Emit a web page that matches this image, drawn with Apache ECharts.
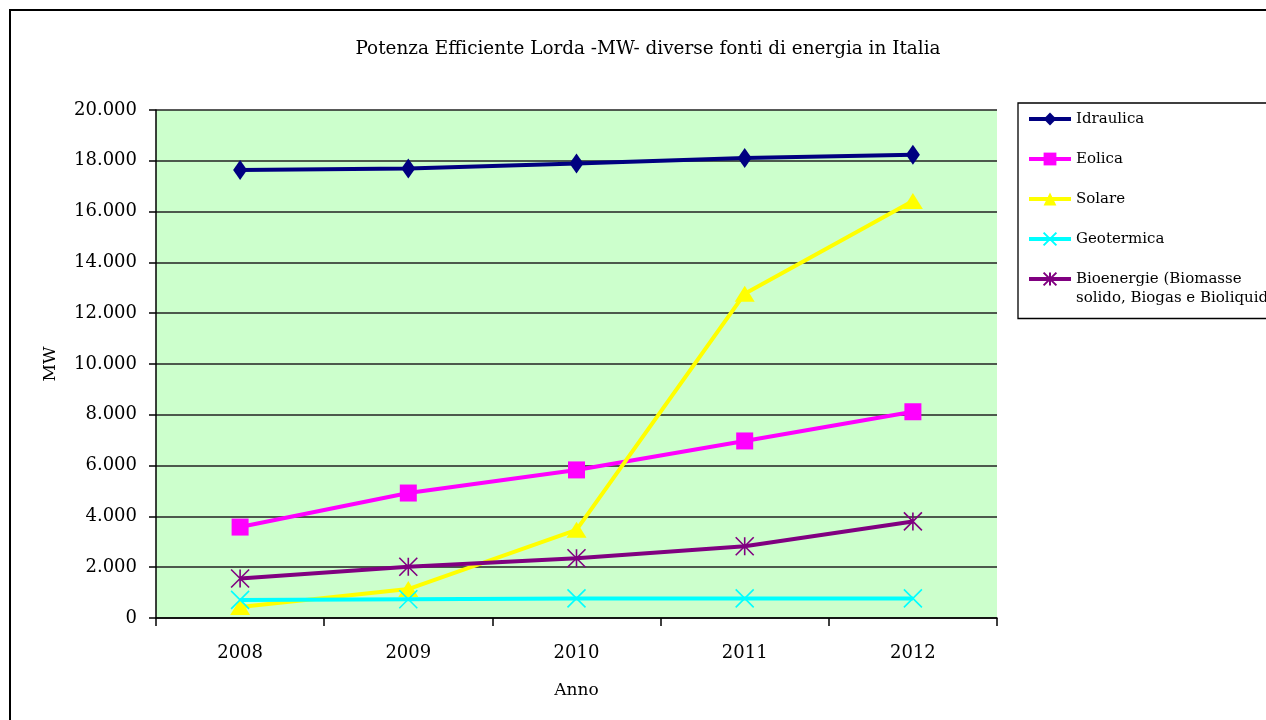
<!DOCTYPE html>
<html><head><meta charset="utf-8">
<script src="https://cdn.jsdelivr.net/npm/echarts@6/dist/echarts.min.js"></script>
<style>html,body{margin:0;padding:0;background:#fff}#c{width:1266px;height:720px}</style>
</head><body><div id="c"></div>
<script>
var years = ['2008','2009','2010','2011','2012'];
var idraulica = [17640, 17700, 17890, 18110, 18240];
var eolica = [3580, 4920, 5830, 6970, 8120];
var solare = [430, 1140, 3470, 12770, 16420];
var geotermica = [711, 737, 772, 772, 772];
var bioenergie = [1555, 2019, 2352, 2825, 3802];
var seriesNames = ['Idraulica','Eolica','Solare','Geotermica','Bioenergie (Biomasse\nsolido, Biogas e Bioliquidi)'];

var FONT = 'DejaVu Serif';
var chart = echarts.init(document.getElementById('c'), null, {renderer:'canvas'});
function mk(name, data, color, symbol, size, extra) {
  var s = {
    name: name, type: 'line', data: data, symbol: symbol, symbolSize: size,
    lineStyle: {color: color, width: 4},
    itemStyle: {color: color},
    animation: false, z: 3
  };
  if (extra) { s.itemStyle = {color: 'rgba(0,0,0,0)', borderColor: color, borderWidth: 1.6}; }
  return s;
}
var legendCommon = {
  orient: 'vertical', left: 1018, itemGap: 21,
  itemWidth: 42, itemHeight: 16,
  lineStyle: {width: 4},
  textStyle: {fontFamily: FONT, fontSize: 15, color: '#000', lineHeight: 19}
};
var option = {
  animation: false,
  backgroundColor: '#fff',
  title: {
    text: 'Potenza Efficiente Lorda -MW- diverse fonti di energia in Italia',
    left: 643, textAlign: 'center', top: 35,
    textStyle: {fontFamily: FONT, fontSize: 18.4, fontWeight: 'normal', color: '#000'}
  },
  graphic: [{
    type: 'rect', shape: {x: 10, y: 10, width: 1300, height: 760},
    style: {fill: 'none', stroke: '#000', lineWidth: 2}, z: -10
  }],
  legend: [
    Object.assign({}, legendCommon, {
      top: 103, padding: [6.5, 160, 70, 9],
      borderColor: '#000', borderWidth: 1.3,
      data: seriesNames.slice(0, 4)
    }),
    Object.assign({}, legendCommon, {
      top: 250.5, padding: [0, 0, 0, 9],
      borderWidth: 0,
      formatter: function(n){ return '\n' + n; },
      data: seriesNames.slice(4)
    })
  ],
  grid: {left: 156, top: 110, right: 269, bottom: 102, show: true, backgroundColor: '#CCFFCC', borderWidth: 0},
  xAxis: {
    type: 'category', data: years, boundaryGap: true,
    name: 'Anno', nameLocation: 'middle', nameGap: 64,
    nameTextStyle: {fontFamily: FONT, fontSize: 17, color: '#000'},
    axisLine: {lineStyle: {color: '#000', width: 1.5}},
    axisTick: {show: true, length: 8, lineStyle: {color: '#000', width: 1.5}, alignWithLabel: false},
    axisLabel: {fontFamily: FONT, fontSize: 18, color: '#000', margin: 26},
    splitLine: {show: false}
  },
  yAxis: {
    type: 'value', min: 0, max: 20000, interval: 2000,
    name: 'MW', nameLocation: 'middle', nameGap: 97, nameRotate: 90,
    nameTextStyle: {fontFamily: FONT, fontSize: 17, color: '#000'},
    axisLine: {show: true, lineStyle: {color: '#000', width: 1.5}},
    axisTick: {show: true, length: 7, lineStyle: {color: '#000', width: 1.5}},
    axisLabel: {fontFamily: FONT, fontSize: 18, color: '#000', margin: 19,
      formatter: function(v){ return v === 0 ? '0' : String(v).replace(/\B(?=(\d{3})+(?!\d))/g, '.'); }},
    splitLine: {show: true, lineStyle: {color: '#222', width: 1.6}}
  },
  series: [
    mk(seriesNames[0], idraulica, '#000080', 'diamond', [14, 20]),
    mk(seriesNames[1], eolica, '#FF00FF', 'rect', 17),
    mk(seriesNames[2], solare, '#FFFF00', 'triangle', [20, 16]),
    mk(seriesNames[3], geotermica, '#00FFFF', 'path://M0,0L10,10M10,0L0,10', 18, true),
    mk(seriesNames[4], bioenergie, '#800080', 'path://M0,0L10,10M10,0L0,10M5,0L5,10', 18, true)
  ]
};
chart.setOption(option);
</script>
</body></html>
